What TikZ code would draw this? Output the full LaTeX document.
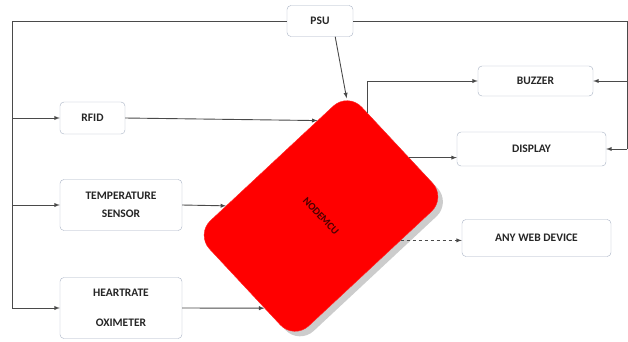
\documentclass[tikz,border=0pt]{standalone}
\usepackage{fontspec}
\setmainfont{Carlito}
\usetikzlibrary{calc,shadows}
\definecolor{boxline}{HTML}{A8B2C4}
\definecolor{wiregray}{HTML}{4A4A4A}
\definecolor{mcured}{HTML}{FF0000}
\tikzset{
  block/.style={draw=boxline,fill=white,rounded corners=4pt,align=center,inner sep=2pt,
    text=black!85,font=\bfseries\fontsize{11.5}{18}\selectfont},
  wire/.style={draw=wiregray,line width=0.9pt},
  mcubox/.style={fill=mcured,draw=mcured!85!white,rounded corners=20pt,rotate=-47,
    minimum width=144pt,minimum height=208pt,text=red!30!black,
    font=\bfseries\fontsize{10.5}{12}\selectfont,
    drop shadow={shadow xshift=5pt,shadow yshift=-5pt,fill=black,opacity=0.2}},
}
\begin{document}
\begin{tikzpicture}[x=1pt,y=-1pt]
  \useasboundingbox (0,0) rectangle (628,341);
  % blocks
  \node[block,minimum width=66,minimum height=31] (psu) at (320,21) {PSU};
  \node[block,minimum width=65,minimum height=32] (rfid) at (92.5,118) {RFID};
  \node[block,minimum width=122,minimum height=51] (temp) at (121,205) {TEMPERATURE\\SENSOR};
  \node[block,minimum width=122,minimum height=61,font=\bfseries\fontsize{11.5}{30}\selectfont] (heart) at (121,308) {HEARTRATE\\OXIMETER};
  \node[block,minimum width=115,minimum height=30] (buzzer) at (535.5,81) {BUZZER};
  \node[block,minimum width=149,minimum height=34] (display) at (531.5,149) {DISPLAY};
  \node[block,minimum width=149,minimum height=37] (web) at (536.5,238) {ANY WEB DEVICE};
  \node[mcubox] (mcu) at (321,216) {NODEMCU};
  % power bus, left side
  \coordinate (lbus) at (12,21);
  \draw[wire] (psu.west) -- (lbus) -- (lbus |- heart.west);
  \draw[wire,-latex] (lbus |- rfid.west) -- (rfid.west);
  \draw[wire,-latex] (lbus |- temp.west) -- (temp.west);
  \draw[wire,-latex] (lbus |- heart.west) -- (heart.west);
  % power bus, right side
  \coordinate (rbus) at (627,21);
  \draw[wire] (psu.east) -- (rbus) -- (rbus |- display.east);
  \draw[wire,-latex] (rbus |- buzzer.east) -- (buzzer.east);
  \draw[wire,-latex] (rbus |- display.east) -- (display.east);
  % into the controller
  \draw[wire,-latex] (psu.south east) ++(-18,0) -- ($(mcu.north west)!0.05!(mcu.center)$);
  \draw[wire,-latex] (rfid.east) -- ($(mcu.north west)!0.2!(mcu.south west)$);
  \draw[wire,-latex] (temp.east) -- ($(mcu.north west)!0.8!(mcu.south west)$);
  \draw[wire,-latex] (heart.east) -- ($(mcu.south west)!0.7!(mcu.south east)$);
  % out of the controller
  \draw[wire,-latex] ($(mcu.north west)!0.2!(mcu.north east)$) |- (buzzer.west);
  \draw[wire,-latex] ($(mcu.north west)!0.62!(mcu.north east)$) coordinate (dtap) -- (dtap -| display.west);
  \draw[wire,dashed,-latex] ($(mcu.north east)!0.3!(mcu.south east)$) coordinate (wtap) -- (wtap -| web.west);
\end{tikzpicture}
\end{document}
